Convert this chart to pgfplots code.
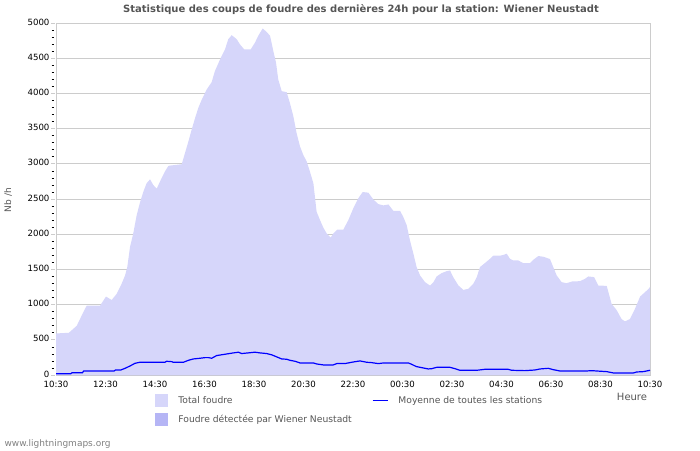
\documentclass[border=0pt]{standalone}
\usepackage{pgfplots}
\pgfplotsset{compat=1.18}
\usepackage{fontspec}
\setmainfont{DejaVu Sans}
\definecolor{totfill}{RGB}{214,214,250}
\definecolor{detfill}{RGB}{181,181,245}
\definecolor{avgline}{RGB}{0,0,255}
\definecolor{txtgray}{RGB}{85,85,85}
\definecolor{gridgray}{RGB}{204,204,204}
\begin{document}
\begin{tikzpicture}[x=1pt,y=1pt]
\useasboundingbox (0,0) rectangle (700,450);
\begin{axis}[
  at={(56pt,75pt)}, anchor=south west,
  scale only axis, width=594pt, height=352pt,
  xmin=0, xmax=24, ymin=0, ymax=5000,
  xtick={0,2,...,24},
  xticklabels={10:30,12:30,14:30,16:30,18:30,20:30,22:30,00:30,02:30,04:30,06:30,08:30,10:30},
  minor x tick num=3,
  ytick={0,500,...,5000},
  minor y tick num=4,
  tick pos=left,
  ymajorgrids,
  major grid style={gridgray, line width=0.8pt},
  axis line style={gridgray, line width=0.8pt},
  tick align=inside,
  major tick length=4pt, minor tick length=2.5pt,
  every tick/.style={black, line width=0.6pt},
  major y tick style={gridgray, line width=0.8pt, xshift=-5pt},
  minor y tick style={black, line width=0.6pt, xshift=-4.5pt},
  ticklabel style={font=\fontsize{8.6}{10}\selectfont, text=black},
  /pgf/number format/assume math mode=true,
  /pgf/number format/1000 sep={},
  yticklabel style={xshift=-3pt, yshift=1pt},
  xticklabel style={yshift=-2.5pt},
  legend columns=2,
  legend style={at={(axis description cs:0.167,-0.053)}, anchor=north west, draw=none, fill=none, inner sep=0pt,
    font=\fontsize{9.2}{11}\selectfont, text=txtgray, row sep=6pt,
    /tikz/every even column/.append style={column sep=19pt},
    /tikz/every odd column/.append style={column sep=9pt},
    nodes={inner sep=1pt}},
  legend cell align=left,
]
\addplot[fill=totfill, draw=none,
  legend image code/.code={\path[fill=totfill] (0pt,-6.5pt) rectangle (13pt,6.5pt);}]
table[row sep=\\]{
x y\\
0 590\\ 0.52 600\\ 0.84 700\\ 0.97 795\\ 1.10 890\\ 1.24 985\\ 1.78 985\\
2.02 1114\\ 2.25 1066\\ 2.45 1152\\ 2.65 1295\\ 2.79 1414\\ 2.88 1533\\ 2.99 1818\\
3.12 2009\\ 3.26 2270\\ 3.39 2447\\ 3.53 2604\\ 3.66 2723\\ 3.80 2780\\ 3.93 2699\\
4.07 2647\\ 4.20 2747\\ 4.40 2890\\ 4.54 2970\\ 4.61 2975\\ 5.08 2994\\ 5.21 3151\\
5.35 3318\\ 5.48 3484\\ 5.62 3651\\ 5.75 3794\\ 5.89 3913\\ 6.09 4056\\ 6.29 4160\\
6.42 4317\\ 6.63 4484\\ 6.83 4627\\ 6.96 4770\\ 7.10 4827\\ 7.30 4770\\ 7.43 4698\\
7.60 4627\\ 7.87 4627\\ 8.04 4722\\ 8.17 4817\\ 8.35 4922\\ 8.51 4874\\ 8.65 4817\\
8.78 4603\\ 8.89 4436\\ 8.98 4198\\ 9.12 4032\\ 9.32 4017\\ 9.45 3865\\ 9.59 3675\\
9.72 3437\\ 9.86 3246\\ 9.99 3127\\ 10.13 3032\\ 10.26 2889\\ 10.40 2723\\ 10.53 2318\\
10.67 2199\\ 10.80 2094\\ 10.94 2009\\ 11.10 1952\\ 11.20 2009\\ 11.37 2066\\ 11.61 2066\\
11.81 2199\\ 12.01 2366\\ 12.21 2508\\ 12.39 2599\\ 12.62 2590\\ 12.82 2494\\ 13.02 2428\\
13.23 2409\\ 13.43 2423\\ 13.63 2332\\ 13.90 2332\\ 14.03 2247\\ 14.17 2128\\ 14.30 1914\\
14.44 1723\\ 14.57 1533\\ 14.71 1414\\ 14.91 1319\\ 15.11 1271\\ 15.25 1319\\ 15.38 1400\\
15.58 1447\\ 15.79 1476\\ 15.92 1485\\ 16.05 1390\\ 16.26 1271\\ 16.46 1209\\ 16.66 1224\\
16.86 1295\\ 17.00 1390\\ 17.13 1533\\ 17.33 1590\\ 17.54 1652\\ 17.67 1695\\ 17.94 1695\\
18.07 1705\\ 18.21 1723\\ 18.34 1652\\ 18.47 1628\\ 18.67 1628\\ 18.88 1590\\ 19.15 1590\\
19.29 1638\\ 19.49 1690\\ 19.69 1680\\ 19.96 1647\\ 20.09 1533\\ 20.23 1414\\ 20.43 1319\\
20.63 1304\\ 20.84 1328\\ 21.17 1333\\ 21.37 1366\\ 21.51 1400\\ 21.74 1390\\ 21.91 1271\\
22.25 1266\\ 22.45 1009\\ 22.65 923\\ 22.85 795\\ 22.99 762\\ 23.19 795\\ 23.39 938\\
23.60 1114\\ 23.87 1200\\ 24.0 1247\\
} \closedcycle;
\addlegendentry{Total foudre}
\addplot[avgline, line width=1.2pt,
  legend image code/.code={\draw[avgline, line width=1.6pt] (0pt,0pt) -- (15pt,0pt);}]
table[row sep=\\]{
x y\\
0 19\\ 0.60 19\\ 0.65 33\\ 1.07 33\\ 1.12 57\\ 2.35 57\\ 2.40 71\\ 2.62 71\\
2.79 95\\ 2.99 128\\ 3.19 166\\ 3.39 181\\ 4.40 181\\ 4.47 195\\ 4.67 190\\
4.74 181\\ 5.15 181\\ 5.35 209\\ 5.55 228\\ 5.82 238\\ 6.02 247\\ 6.16 247\\
6.29 238\\ 6.49 276\\ 6.83 295\\ 7.17 314\\ 7.37 324\\ 7.50 305\\ 7.77 314\\
8.04 324\\ 8.24 314\\ 8.51 305\\ 8.72 286\\ 8.92 257\\ 9.12 228\\ 9.32 224\\
9.45 209\\ 9.66 195\\ 9.86 171\\ 10.40 171\\ 10.53 157\\ 10.80 143\\ 11.20 143\\
11.34 162\\ 11.67 162\\ 12.01 185\\ 12.28 200\\ 12.55 181\\ 12.75 176\\ 13.02 162\\
13.23 171\\ 14.24 171\\ 14.37 152\\ 14.51 128\\ 14.57 119\\ 14.84 100\\ 15.04 86\\
15.18 90\\ 15.38 109\\ 15.92 109\\ 16.12 90\\ 16.32 67\\ 17.00 67\\ 17.33 81\\
18.27 81\\ 18.41 67\\ 18.94 62\\ 19.35 71\\ 19.56 86\\ 19.89 95\\ 20.09 76\\
20.36 57\\ 21.44 57\\ 21.64 62\\ 21.84 57\\ 22.25 48\\ 22.52 29\\ 23.33 29\\
23.46 43\\ 23.73 48\\ 23.93 62\\ 24 67\\
};
\addlegendentry{Moyenne de toutes les stations}
\addplot[fill=detfill, draw=none,
  legend image code/.code={\path[fill=detfill] (0pt,-6.5pt) rectangle (13pt,6.5pt);}]
table[row sep=\\]{
x y\\
0 0\\ 24 0\\
} \closedcycle;
\addlegendentry{Foudre détectée par Wiener Neustadt}
\end{axis}
\node[font=\bfseries\fontsize{10}{12}\selectfont, text=txtgray] at (361,440) {Statistique des coups de foudre des dernières 24h pour la station: Wiener Neustadt};
\node[rotate=90, font=\fontsize{9}{10}\selectfont, text=txtgray] at (8,250) {Nb /h};
\node[font=\fontsize{10}{12}\selectfont, text=txtgray] at (632,53) {Heure};
\node[anchor=west, font=\fontsize{9}{10}\selectfont, text=gray] at (1,6) {www.lightningmaps.org};
\end{tikzpicture}
\end{document}
